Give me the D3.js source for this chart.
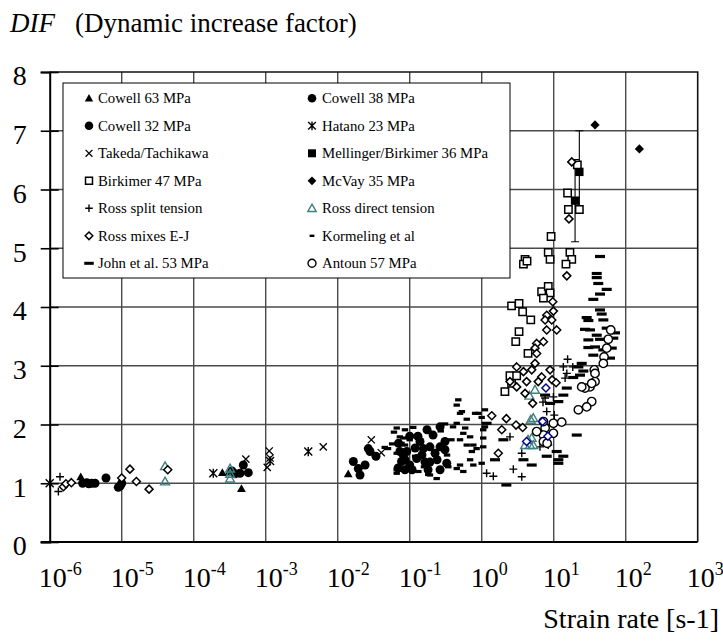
<!DOCTYPE html>
<html>
<head>
<meta charset="utf-8">
<script src="https://cdn.jsdelivr.net/npm/d3@7"></script>
<style>
  body { margin: 0; background: #fff; }
  svg { display: block; }
</style>
</head>
<body>
<svg id="chart" width="723" height="643"></svg>
<script>
// ---- Data: [strain rate (1/s), DIF] ----
const cowell63 = [[2.7e-6,1.11],[2.5e-4,1.18],[3.1e-4,1.19],[4.6e-4,0.91],[1.4e-2,1.16]];
const cowell38 = [[1.65e-2,1.37],[1.93e-2,1.25],[2.04e-2,1.14],[2.4e-2,1.31],[2.66e-2,1.59],[2.81e-2,1.54],[3.4e-2,1.46],
  [0.264,1.96],[0.211,1.82],[0.139,1.71],[0.155,1.59],[0.191,1.62],[0.225,1.51],[0.264,1.62],[0.309,1.71],[0.327,1.34],
  [8.15e-2,1.48],[8.6e-2,1.40],[0.100,1.31],[0.125,1.42],[9.1e-2,1.54],[7.3e-2,1.54],[7.7e-2,1.37],[6.9e-2,1.26],
  [0.108,1.23],[0.163,1.36],[0.18,1.23],[0.24,1.40],[0.13,1.80],[0.174,1.91],
  [8.6e-2,1.23],[0.119,1.60],[0.148,1.48],[0.191,1.36],[0.264,1.23],[0.100,1.80],[7.0e-2,1.68],[0.309,1.57]];
const cowell32 = [[2.87e-6,1.00],[3.27e-6,1.01],[3.83e-6,1.00],[4.26e-6,1.00],[3.5e-6,0.99],[6.05e-6,1.09],[8.97e-6,0.93],
  [1.0e-5,1.00],[9.5e-6,0.95],[3.75e-4,1.16],[4.4e-4,1.17],[4.89e-4,1.31],[5.73e-4,1.18],[3.4e-4,1.21]];
const hatano23 = [[1.0e-6,1.00],[1.87e-4,1.17],[1.15e-3,1.38],[3.9e-3,1.54]];
const takedaTachikawa = [[5.3e-4,1.41],[1.12e-3,1.55],[1.15e-3,1.43],[1.05e-3,1.27],[6.3e-3,1.62],[2.93e-2,1.74],[4.03e-2,1.52]];
const mellingerBirkimer36 = [[22.7,6.30],[19.8,5.81]];
const mellingerError = [0.7, 0.7];
const birkimer47 = [[15.6,5.94],[16.0,5.66],[22.7,5.66],[21.3,6.42],[9.2,5.20],[8.4,4.93],[8.9,4.81],[16.8,4.93],[17.8,4.81],
  [14.8,4.73],[4.0,4.81],[3.8,4.73],[4.26,4.78],[6.8,4.26],[8.4,4.35],[8.9,4.24],[7.2,4.15],[2.6,4.02],[3.3,4.06],[3.7,3.92],
  [4.8,3.78],[3.3,3.58],[2.97,3.41],[4.4,3.21],[2.47,2.83],[3.06,2.83],[2.1,2.56],[2.6,2.70]];
const mcvay35 = [[37.5,7.10],[155,6.69]];
const rossSplit = [[1.39e-6,1.11],[1.32e-6,0.86],[1.17,1.17],[1.45,1.12],[2.75,1.24],[3.6,1.11],[2.47,1.79],[3.6,1.51],
  [6.45,1.62],[8.4,1.65],[7.6,2.45],[9.9,2.47],[8.0,2.22],[10.2,2.16],[15.6,3.11],[13.6,2.98],[18.4,2.98],[15.2,2.87],
  [14.4,2.79],[7.1,2.38]];
const rossDirect = [[4.0e-5,1.29],[4.0e-5,1.03],[3.2e-4,1.25],[3.2e-4,1.16],[3.2e-4,1.08],[5.5,2.59],[4.6,2.49],[4.8,2.08],
  [5.2,2.11],[4.4,1.74],[4.95,1.77],[4.0,1.65],[4.7,1.65],[5.2,1.65]];
const rossMixes = [[1.55e-6,0.94],[1.68e-6,0.99],[2.0e-6,1.01],[1.0e-5,1.09],[1.3e-5,1.24],[1.6e-5,1.03],[2.4e-5,0.90],
  [4.36e-5,1.23],[15.2,4.53],[9.7,4.09],[9.9,3.93],[8.0,3.86],[7.6,3.78],[9.4,3.78],[11.0,3.61],[8.0,3.61],[7.2,3.41],
  [5.8,3.38],[5.5,3.30],[5.8,3.21],[5.5,3.04],[3.06,2.98],[3.8,2.90],[4.95,2.93],[6.8,2.81],[8.9,2.93],[4.2,2.73],[6.1,2.73],
  [3.06,2.64],[4.0,2.53],[2.47,2.73],[5.1,2.36],[1.38,2.15],[2.2,2.10],[3.0,1.99],[3.7,1.95],[1.9,1.91],[1.7,1.51],
  [16.3,5.50],[17.8,6.47],[9.5,2.76],[10.8,2.71]];
const rossMixesBlue = [[7.8,2.62],[7.0,2.05],[4.2,1.71],[8.3,1.80]];
const kormeling = [[0.473,2.42],[0.45,2.33],[0.53,2.22],[0.81,2.19],[1.11,2.25],[1.0,2.12],[0.62,2.09],[6.6e-2,1.94],
  [8.6e-2,1.91],[0.112,1.95],[0.181,1.88],[5.0e-2,1.59],[4.5e-2,1.61],[7.3e-2,1.79],[8.15e-2,1.77],[8.6e-2,1.65],
  [6.6e-2,1.51],[6.6e-2,1.17],[0.132,1.20],[0.181,1.15],[0.237,1.08],[0.45,1.25],[0.555,1.20],[0.765,1.31],[1.0,1.34],
  [1.05,1.62],[1.05,1.77],[1.05,1.91],[1.11,1.96],[0.765,1.65],[0.69,1.79],[0.59,1.94],[0.40,1.96],[0.38,1.74],[0.33,1.48],
  [0.50,2.19],[0.90,2.19],[0.45,2.02],[7.7e-2,1.68],[7.3e-2,1.54],[6.6e-2,1.23],[0.191,1.14],[0.344,1.28],[0.50,1.31],
  [0.69,1.40],[0.73,1.54],[0.85,1.59],[0.62,1.65],[0.50,1.74],[0.555,1.85],[0.27,1.89],[0.31,2.01],[0.21,1.38],
  [0.158,1.28],[0.119,1.46],[0.10,1.74],[5.7e-2,1.67],[6.05e-2,1.87]];
const john53 = [[44,4.86],[39.6,4.57],[39.6,4.50],[41.6,4.40],[54.5,4.30],[44,4.22],[35.5,4.13],[44,3.95],[46.4,3.88],
  [28.7,3.82],[48.9,3.78],[30.3,3.77],[27.2,3.62],[31.9,3.61],[54.5,3.64],[71,3.56],[39.6,3.52],[30.3,3.44],[44,3.45],
  [67.3,3.47],[37.5,3.32],[30.3,3.31],[48.9,3.27],[64,3.30],[35.5,3.18],[60.5,3.13],[24.5,3.04],[22,2.98],[25.8,2.91],
  [23.2,2.84],[18.7,2.80],[15.2,2.62],[13.6,2.50],[11.6,2.39],[11.0,1.54],[13.6,1.46],[11.6,1.40],[11.6,1.34],[8.0,1.46],
  [20.9,1.82],[2.2,0.97],[4.95,1.31],[3.8,1.40],[1.53,1.40],[2.0,1.74],[1.17,2.02],[7.6,2.50],[8.9,2.36]];
const antoun57 = [[62,3.61],[57.3,3.45],[54.5,3.30],[50,3.15],[48.9,3.04],[36.6,2.93],[37.5,2.73],[31.9,2.64],[27.2,2.62],
  [24.5,2.64],[33.7,2.39],[28.7,2.30],[22,2.25],[12.9,2.04],[9.9,2.02],[9.9,1.85],[7.6,1.94],[7.2,1.82],[5.8,1.88],
  [7.2,1.71],[7.2,2.05],[8.1,1.68],[37.5,2.87],[33.7,2.70]];

const legendNames = ["Cowell 63 MPa","Cowell 38 MPa","Cowell 32 MPa","Hatano 23 MPa","Takeda/Tachikawa",
  "Mellinger/Birkimer 36 MPa","Birkimer 47 MPa","McVay 35 MPa","Ross split tension","Ross direct tension",
  "Ross mixes E-J","Kormeling et al","John et al. 53 MPa","Antoun 57 MPa"];
const xTickExponents = [-6,-5,-4,-3,-2,-1,0,1,2,3];
const yTicks = [0,1,2,3,4,5,6,7,8];

const FONT = "Liberation Serif";

// ---- Series table (data + marker style) ----
const series = [
  {name: legendNames[0],  data: cowell63,           shape: "triangle"},
  {name: legendNames[1],  data: cowell38,           shape: "dot"},
  {name: legendNames[2],  data: cowell32,           shape: "dot"},
  {name: legendNames[3],  data: hatano23,           shape: "star"},
  {name: legendNames[4],  data: takedaTachikawa,    shape: "cross"},
  {name: legendNames[5],  data: mellingerBirkimer36, shape: "fsquare", err: mellingerError},
  {name: legendNames[6],  data: birkimer47,         shape: "osquare"},
  {name: legendNames[7],  data: mcvay35,            shape: "fdiamond"},
  {name: legendNames[8],  data: rossSplit,          shape: "plus"},
  {name: legendNames[9],  data: rossDirect,         shape: "otriangle"},
  {name: legendNames[10], data: rossMixes,          shape: "odiamond"},
  {name: legendNames[11], data: kormeling,          shape: "sdash"},
  {name: legendNames[12], data: john53,             shape: "ldash"},
  {name: legendNames[13], data: antoun57,           shape: "ocircle"},
  {name: null,            data: rossMixesBlue,      shape: "bdiamond"}
];

const shapeStyle = {
  triangle:  {fill: "#000", stroke: "none", sw: 0},
  dot:       {fill: "#000", stroke: "none", sw: 0},
  star:      {fill: "none", stroke: "#000", sw: 1.4},
  cross:     {fill: "none", stroke: "#000", sw: 1.3},
  fsquare:   {fill: "#000", stroke: "none", sw: 0},
  osquare:   {fill: "#fff", stroke: "#000", sw: 1.5},
  fdiamond:  {fill: "#000", stroke: "none", sw: 0},
  plus:      {fill: "none", stroke: "#000", sw: 1.4},
  otriangle: {fill: "none", stroke: "#3f7f7f", sw: 1.4},
  odiamond:  {fill: "#fff", stroke: "#000", sw: 1.5},
  sdash:     {fill: "#000", stroke: "none", sw: 0},
  ldash:     {fill: "#000", stroke: "none", sw: 0},
  ocircle:   {fill: "#fff", stroke: "#000", sw: 1.4},
  bdiamond:  {fill: "#fff", stroke: "#00008b", sw: 1.4}
};

function markerPath(shape, k) {
  const s = 4 * k;
  switch (shape) {
    case "triangle":
    case "otriangle":
      return `M0,${-s*1.1}L${s*1.1},${s*0.85}L${-s*1.1},${s*0.85}Z`;
    case "dot":
      return d3.symbol(d3.symbolCircle, Math.PI * (4.5*k) * (4.5*k))();
    case "ocircle":
      return d3.symbol(d3.symbolCircle, Math.PI * (4.2*k) * (4.2*k))();
    case "star":
      return `M${-s},${-s}L${s},${s}M${s},${-s}L${-s},${s}M0,${-s*1.15}V${s*1.15}`;
    case "cross":
      return `M${-s*0.9},${-s*0.9}L${s*0.9},${s*0.9}M${s*0.9},${-s*0.9}L${-s*0.9},${s*0.9}`;
    case "plus":
      return `M${-s},0H${s}M0,${-s}V${s}`;
    case "fsquare":
      return `M${-s*1.05},${-s*1.05}h${s*2.1}v${s*2.1}h${-s*2.1}Z`;
    case "osquare":
      return `M${-s*0.92},${-s*0.92}h${s*1.84}v${s*1.84}h${-s*1.84}Z`;
    case "fdiamond":
      return `M0,${-s*1.15}L${s*1.15},0L0,${s*1.15}L${-s*1.15},0Z`;
    case "odiamond":
    case "bdiamond":
      return `M0,${-s}L${s},0L0,${s}L${-s},0Z`;
    case "sdash":
      return `M${-3.2*k},${-1.6*k}h${6.4*k}v${3.2*k}h${-6.4*k}Z`;
    case "ldash":
      return `M${-5*k},${-1.6*k}h${10*k}v${3.2*k}h${-10*k}Z`;
  }
}

// ---- Layout ----
const svg = d3.select("#chart");
const plot = {left: 49.7, right: 697.7, top: 72, bottom: 542};
const x = d3.scaleLog().domain([1e-6, 1e3]).range([plot.left, plot.right]);
const y = d3.scaleLinear().domain([0, 8]).range([plot.bottom, plot.top]);

svg.append("rect").attr("width", 723).attr("height", 643).attr("fill", "#fff");

// Title
const title = svg.append("text").attr("x", 10).attr("y", 32)
  .attr("font-family", FONT).attr("font-size", 27).attr("fill", "#000");
title.append("tspan").attr("font-style", "italic").text("DIF");
title.append("tspan").attr("x", 75).text("(Dynamic increase factor)");

// Gridlines
const grid = svg.append("g");
grid.selectAll("line.h").data(yTicks.filter(d => d > 0 && d < 8)).join("line")
  .attr("x1", plot.left).attr("x2", plot.right)
  .attr("y1", d => y(d)).attr("y2", d => y(d))
  .attr("stroke", "#4a4a4a").attr("stroke-width", 1.4);
grid.selectAll("line.v").data(xTickExponents.filter(e => e > -6 && e < 3)).join("line")
  .attr("x1", e => x(Math.pow(10, e))).attr("x2", e => x(Math.pow(10, e)))
  .attr("y1", plot.top).attr("y2", plot.bottom)
  .attr("stroke", "#4a4a4a").attr("stroke-width", 1.4);

// Frame (top and right)
svg.append("path")
  .attr("d", `M${plot.left},${plot.top}H${plot.right}V${plot.bottom}`)
  .attr("fill", "none").attr("stroke", "#111").attr("stroke-width", 1.6);

// Left axis
const yAxis = svg.append("g").attr("transform", `translate(${plot.left},0)`)
  .call(d3.axisLeft(y).tickValues(yTicks).tickSize(9).tickPadding(14).tickFormat(d3.format("d")));
yAxis.attr("font-family", FONT).attr("font-size", 28);
yAxis.select(".domain").attr("stroke", "#000").attr("stroke-width", 2);
yAxis.selectAll(".tick line").attr("stroke", "#000").attr("stroke-width", 1.6).attr("x2", -9).attr("x1", 9);
yAxis.selectAll(".tick text").attr("dy", "0.46em").attr("fill", "#000");

// Bottom axis
const xAxis = svg.append("g").attr("transform", `translate(0,${plot.bottom})`)
  .call(d3.axisBottom(x).tickValues(xTickExponents.map(e => Math.pow(10, e))).tickSize(0).tickFormat(""));
xAxis.attr("font-family", FONT).attr("font-size", 28);
xAxis.select(".domain").attr("stroke", "none");
svg.append("line").attr("x1", plot.left - 9).attr("x2", plot.right)
  .attr("y1", plot.bottom).attr("y2", plot.bottom).attr("stroke", "#000").attr("stroke-width", 2);
xAxis.selectAll(".tick").each(function(d, i) {
  const t = d3.select(this).append("text").attr("x", -11.5).attr("y", 44.7)
    .attr("text-anchor", "start").attr("fill", "#000");
  t.append("tspan").text("10");
  t.append("tspan").attr("dy", -11.7).attr("font-size", 18).text(String(xTickExponents[i]));
});

// Axis title
svg.append("text").attr("x", 719).attr("y", 628).attr("text-anchor", "end")
  .attr("font-family", FONT).attr("font-size", 28).attr("fill", "#000").text("Strain rate [s-1]");

// Error bars
const errG = svg.append("g");
series.filter(s => s.err).forEach(s => {
  s.data.forEach((d, i) => {
    const cx = x(d[0]), e = s.err[i];
    errG.append("path")
      .attr("d", `M${cx},${y(d[1] + e)}V${y(d[1] - e)}M${cx - 4},${y(d[1] + e)}H${cx + 4}M${cx - 4},${y(d[1] - e)}H${cx + 4}`)
      .attr("stroke", "#000").attr("stroke-width", 1.1).attr("fill", "none");
  });
});

// Points
const pts = svg.append("g");
series.forEach(s => {
  const st = shapeStyle[s.shape];
  pts.append("g").selectAll("path").data(s.data).join("path")
    .attr("transform", d => `translate(${x(d[0])},${y(d[1])})`)
    .attr("d", markerPath(s.shape, 1))
    .attr("fill", st.fill).attr("stroke", st.stroke).attr("stroke-width", st.sw);
});

// Legend
const lg = svg.append("g").attr("font-family", FONT).attr("font-size", 14.8);
lg.append("rect").attr("x", 63).attr("y", 83).attr("width", 447).attr("height", 195)
  .attr("fill", "#fff").attr("stroke", "#000").attr("stroke-width", 1);
series.filter(s => s.name).forEach((s, i) => {
  const col = i % 2, row = Math.floor(i / 2);
  const mx = col === 0 ? 89 : 312, tx = col === 0 ? 98 : 322;
  const cy = 98.3 + row * 27.5;
  const st = shapeStyle[s.shape];
  lg.append("path").attr("transform", `translate(${mx},${cy})`)
    .attr("d", markerPath(s.shape, s.shape === "sdash" ? 0.75 : 0.95))
    .attr("fill", st.fill).attr("stroke", st.stroke).attr("stroke-width", st.sw);
  lg.append("text").attr("x", tx).attr("y", cy + 5).attr("fill", "#000").text(s.name);
});
</script>
</body>
</html>
